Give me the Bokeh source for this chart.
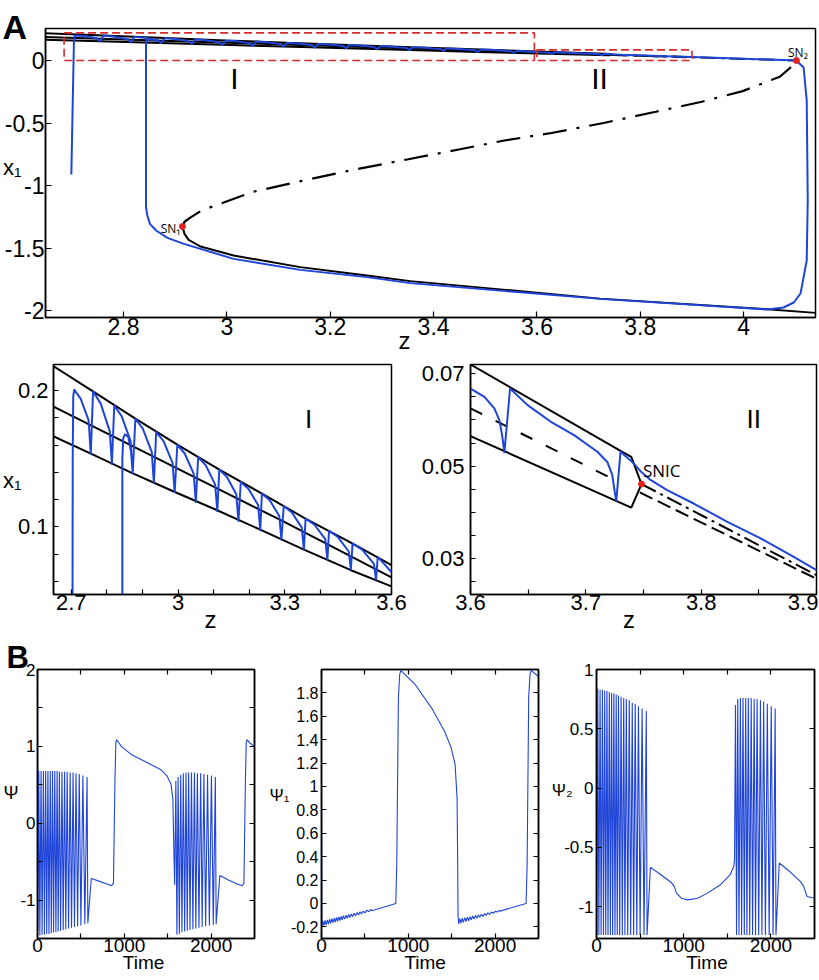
from bokeh.plotting import figure
from bokeh.models import Range1d, FixedTicker, LinearAxis, Label
from bokeh.layouts import column, row
from bokeh.embed import file_html
from bokeh.resources import INLINE

FONT = "Liberation Sans"
SANS2 = "Open Sans"
BLUE = "#1f44d8"
RED = "#e3221c"
BOXRED = "#d62b2b"

# ---------------- Panel A / I / II data (z, x1) ----------------
top_z = [2.645, 2.761, 2.880, 2.998, 3.116, 3.236, 3.358, 3.491, 3.600, 3.7316, 3.7394, 3.7483]
top_x = [0.2186, 0.1993, 0.1793, 0.1603, 0.1420, 0.1244, 0.1061, 0.0878, 0.0720, 0.0531, 0.0520, 0.0461]
bot_z = [2.645, 2.755, 2.873, 2.991, 3.110, 3.231, 3.354, 3.486, 3.600, 3.7394, 3.7483]
bot_x = [0.1670, 0.1537, 0.1393, 0.1256, 0.1122, 0.0980, 0.0834, 0.0683, 0.0565, 0.0410, 0.0461]
mid_z = [2.645, 3.000, 3.300, 3.600]
mid_x = [0.1888, 0.1425, 0.1035, 0.0630]
mid2_z = [3.600, 3.7301]
mid2_x = [0.0625, 0.0464]
up_z = [3.7483, 3.900, 4.102]
up_x = [0.0461, 0.0264, 0.0000]
lo_z = [3.7468, 3.900]
lo_x = [0.0443, 0.0256]
mb_z = [2.914, 2.918, 2.930, 2.951, 3.051, 3.148, 3.250, 3.351, 3.451, 3.537, 3.628, 3.729,
        3.830, 3.919, 3.998, 4.070, 4.095, 4.102]
mb_x = [-1.328, -1.290, -1.255, -1.200, -1.050, -0.960, -0.870, -0.790, -0.710, -0.640, -0.580,
        -0.500, -0.410, -0.330, -0.245, -0.130, -0.040, 0.000]
low_z = [2.914, 2.918, 2.926, 2.949, 3.013, 3.142, 3.271, 3.355, 3.540, 3.722, 4.046, 4.139]
low_x = [-1.328, -1.387, -1.435, -1.488, -1.560, -1.653, -1.720, -1.765, -1.835, -1.905, -1.990, -2.019]

traj_z = [2.699, 2.7040, 2.7055, 2.7085,
          2.7266, 2.7487, 2.7547, 2.7613, 2.7824, 2.8082, 2.8142, 2.8208, 2.8414, 2.8666, 2.8726, 2.8802,
          2.9009, 2.9261, 2.9321, 2.9387, 2.9594, 2.9846, 2.9906, 2.9981, 3.0188, 3.0440, 3.0500, 3.0566,
          3.0781, 3.1044, 3.1104, 3.1160, 3.1375, 3.1638, 3.1698, 3.1764, 3.1983, 3.2251, 3.2311, 3.2358,
          3.2578, 3.2846, 3.2906, 3.2972, 3.3200, 3.3478, 3.3538, 3.3585, 3.3834, 3.4138, 3.4198, 3.4245,
          3.4494, 3.4798, 3.4858, 3.4906, 3.5176, 3.5506, 3.5566, 3.5613,
          3.5800, 3.6000, 3.6121, 3.6207, 3.6251, 3.6274, 3.6294, 3.6343, 3.6495, 3.6697, 3.6898, 3.7100,
          3.7186, 3.7229, 3.7250, 3.7264, 3.7301, 3.7402, 3.7474, 3.7561, 3.7705, 3.7935, 3.8223, 3.8511,
          3.8799, 3.9000, 4.0000, 4.1020,
          4.1160, 4.1220, 4.1240, 4.1220, 4.1100, 4.0970, 4.0770, 4.0460,
          3.7220, 3.5400, 3.3550, 3.2710, 3.1420, 3.0130, 2.9170, 2.8850, 2.8630, 2.8510, 2.8455, 2.8435,
          2.8435, 2.8460, 2.8509, 2.8604, 2.8680, 2.8726]
traj_x = [-0.912, 0.150, 0.196, 0.2005,
          0.1938, 0.178, 0.1537, 0.1993, 0.1905, 0.170, 0.1463, 0.1890, 0.1812, 0.163, 0.1395, 0.1793,
          0.1720, 0.155, 0.1324, 0.1695, 0.1628, 0.147, 0.1256, 0.1602, 0.1538, 0.139, 0.1183, 0.1512,
          0.1451, 0.131, 0.1115, 0.1420, 0.1366, 0.124, 0.1044, 0.1329, 0.1278, 0.116, 0.0976, 0.1244,
          0.1195, 0.108, 0.0907, 0.1154, 0.1106, 0.0995, 0.0834, 0.1061, 0.1016, 0.091, 0.0763, 0.0971,
          0.0926, 0.082, 0.0690, 0.0878, 0.0834, 0.073, 0.0615, 0.0780,
          0.0728, 0.0668, 0.0650, 0.0625, 0.0599, 0.0567, 0.0530, 0.0668, 0.0632, 0.0596, 0.0567, 0.0531,
          0.0509, 0.0481, 0.0445, 0.0425, 0.0531, 0.0509, 0.0489, 0.0470, 0.0448, 0.0419, 0.0380, 0.0344,
          0.0304, 0.0275, 0.0145, 0.0000,
          -0.056, -0.32, -1.12, -1.60, -1.864, -1.936, -1.976, -1.992,
          -1.907, -1.845, -1.781, -1.733, -1.675, -1.587, -1.467, -1.419, -1.360, -1.307, -1.230, -1.170,
          0.150, 0.1650, 0.1678, 0.1659, 0.1550, 0.1395]

sn_z = [2.914, 4.102]
sn_x = [-1.328, 0.000]
snic_z = [3.7483]
snic_x = [0.0461]
box_left = [2.685, 3.600]
box_right = [3.595, 3.900]
box_bottom = [0.000, 0.000]
box_top = [0.221, 0.085]

a_xt = [2.8, 3.0, 3.2, 3.4, 3.6, 3.8, 4.0]
a_xl = ["2.8", "3", "3.2", "3.4", "3.6", "3.8", "4"]
a_yt = [-2.0, -1.5, -1.0, -0.5, 0.0]
a_yl = ["-2", "-1.5", "-1", "-0.5", "0"]
i_xt = [2.7, 3.0, 3.3, 3.6]
i_xl = ["2.7", "3", "3.3", "3.6"]
i_xm = [2.8, 2.9, 3.1, 3.2, 3.4, 3.5]
i_yt = [0.1, 0.2]
i_yl = ["0.1", "0.2"]
i_ym = [0.06, 0.08, 0.12, 0.14, 0.16, 0.18]
ii_xtick = [3.6, 3.65, 3.7, 3.75, 3.8, 3.85, 3.9]
ii_xlab_pos = [3.6, 3.7, 3.8, 3.8884]
ii_xl = ["3.6", "3.7", "3.8", "3.9"]
ii_yt = [0.03, 0.05, 0.07]
ii_yl = ["0.03", "0.05", "0.07"]
ii_ym = [0.025, 0.035, 0.04, 0.045, 0.055, 0.06, 0.065]

# ---------------- Panel B data (time series) ----------------
b1_peak_t = [15, 41, 68, 94, 120, 147, 173, 199, 226, 252, 282, 312, 342, 376, 410, 444, 481, 523, 571]
b1_trough_t = [27, 53, 80, 106, 132, 159, 185, 212, 238, 266, 296, 326, 358, 392, 426, 462, 500, 545, 580]
b2_peak_t = [1594, 1620, 1650, 1680, 1711, 1741, 1774, 1808, 1842, 1880, 1917, 1959, 2004, 2049]
b2_trough_t = [1606, 1634, 1664, 1695, 1725, 1757, 1790, 1824, 1860, 1897, 1937, 1980, 2025, 2058]

psi_pre_t = [0, 5]
psi_pre = [1.98, -1.40]
psi_pk1 = [0.68, 0.68, 0.68, 0.68, 0.68, 0.68, 0.68, 0.68, 0.68, 0.67, 0.67, 0.67, 0.67, 0.66, 0.66, 0.65, 0.64, 0.62, 0.60]
psi_tr1 = [-1.46, -1.45, -1.45, -1.44, -1.44, -1.43, -1.42, -1.42, -1.41, -1.40, -1.39, -1.38, -1.37, -1.36, -1.35, -1.34, -1.33, -1.31, -1.30]
psi_mid_t = [620, 700, 800, 853, 875, 893, 903, 912, 935, 966, 1079, 1267, 1417, 1492, 1538, 1560, 1570, 1580]
psi_mid = [-0.72, -0.75, -0.79, -0.813, -0.78, 0.60, 1.05, 1.088, 1.05, 1.00, 0.895, 0.787, 0.70, 0.615, 0.51, 0.31, -0.30, -0.80]
psi_pk2 = [0.55, 0.60, 0.63, 0.65, 0.66, 0.66, 0.66, 0.66, 0.65, 0.65, 0.64, 0.63, 0.62, 0.60]
psi_tr2 = [-1.45, -1.44, -1.42, -1.41, -1.40, -1.39, -1.38, -1.37, -1.36, -1.35, -1.34, -1.33, -1.32, -1.31]
psi_post_t = [2101, 2200, 2300, 2357, 2378, 2396, 2405, 2414, 2450, 2500]
psi_post = [-0.68, -0.74, -0.79, -0.813, -0.78, 0.60, 1.05, 1.088, 1.04, 1.00]

psi1_pre_t = [0, 4]
psi1_pre = [1.00, -0.19]
psi1_pk1 = [-0.150, -0.145, -0.140, -0.135, -0.130, -0.125, -0.120, -0.115, -0.110, -0.105, -0.100, -0.095, -0.090, -0.085, -0.078, -0.072, -0.065, -0.057, -0.050]
psi1_tr1 = [-0.190, -0.183, -0.177, -0.171, -0.165, -0.159, -0.153, -0.147, -0.141, -0.134, -0.128, -0.121, -0.113, -0.106, -0.098, -0.090, -0.081, -0.071, -0.062]
psi1_mid_t = [856, 867, 886, 901, 916, 1081, 1269, 1419, 1494, 1539, 1562, 1569, 1573, 1580]
psi1_mid = [0.00, 0.33, 1.76, 1.96, 1.99, 1.87, 1.67, 1.47, 1.33, 1.19, 0.90, 0.33, -0.10, -0.175]
psi1_pk2 = [-0.131, -0.127, -0.122, -0.118, -0.113, -0.108, -0.102, -0.098, -0.093, -0.087, -0.081, -0.074, -0.067, -0.059]
psi1_tr2 = [-0.168, -0.162, -0.155, -0.148, -0.141, -0.134, -0.127, -0.119, -0.111, -0.103, -0.094, -0.084, -0.074, -0.066]
psi1_post_t = [2357, 2369, 2387, 2402, 2417, 2500]
psi1_post = [0.00, 0.33, 1.76, 1.96, 1.99, 1.94]

psi2_pre_t = [0, 5]
psi2_pre = [1.00, -1.24]
psi2_pk1 = [0.84, 0.83, 0.83, 0.82, 0.82, 0.81, 0.80, 0.80, 0.79, 0.78, 0.77, 0.76, 0.75, 0.74, 0.72, 0.71, 0.69, 0.67, 0.65]
psi2_tr1 = [-1.24, -1.24, -1.24, -1.24, -1.24, -1.24, -1.24, -1.24, -1.24, -1.24, -1.24, -1.24, -1.24, -1.24, -1.24, -1.24, -1.24, -1.24, -1.24]
psi2_mid_t = [618, 711, 861, 891, 917, 973, 1048, 1160, 1272, 1422, 1534, 1575, 1583]
psi2_mid = [-0.67, -0.717, -0.80, -0.83, -0.887, -0.93, -0.944, -0.93, -0.887, -0.816, -0.73, -0.66, -0.60]
psi2_pk2 = [0.70, 0.75, 0.76, 0.76, 0.76, 0.76, 0.76, 0.75, 0.75, 0.74, 0.73, 0.71, 0.69, 0.67]
psi2_tr2 = [-1.24, -1.24, -1.24, -1.24, -1.24, -1.24, -1.24, -1.24, -1.24, -1.24, -1.24, -1.24, -1.24, -1.24]
psi2_post_t = [2096, 2208, 2339, 2376, 2414, 2500]
psi2_post = [-0.633, -0.70, -0.79, -0.83, -0.915, -0.93]

b_xt = [0, 1000, 2000]
b_xl = ["0", "1000", "2000"]
b_xm = [500, 1500]
b1_yt = [-1.0, 0.0, 1.0, 2.0]
b1_yl = ["-1", "0", "1", "2"]
b1_ym = [-0.5, 0.5, 1.5]
b2_yt = [-0.2, 0.0, 0.2, 0.4, 0.6, 0.8, 1.0, 1.2, 1.4, 1.6, 1.8]
b2_yl = ["-0.2", "0", "0.2", "0.4", "0.6", "0.8", "1", "1.2", "1.4", "1.6", "1.8"]
b3_yt = [-1.0, -0.5, 0.0, 0.5, 1.0]
b3_yl = ["-1", "-0.5", "0", "0.5", "1"]


def build(pre_t, pre_v, pk1, tr1, mid_t, mid_v, pk2, tr2, post_t, post_v):
    t = list(pre_t)
    v = list(pre_v)
    for a, b, c, d in zip(b1_peak_t, pk1, b1_trough_t, tr1):
        t += [a, c]
        v += [b, d]
    t += list(mid_t)
    v += list(mid_v)
    for a, b, c, d in zip(b2_peak_t, pk2, b2_trough_t, tr2):
        t += [a, c]
        v += [b, d]
    t += list(post_t)
    v += list(post_v)
    return t, v


def make_fig(w, h, xr, yr, ml, mr, mt, mb):
    p = figure(width=w, height=h, x_range=Range1d(*xr), y_range=Range1d(*yr),
               output_backend="svg", toolbar_location=None,
               min_border_left=ml, min_border_right=mr, min_border_top=mt, min_border_bottom=mb)
    p.outline_line_color = "black"
    p.outline_line_width = 1.5
    p.xgrid.visible = False
    p.ygrid.visible = False
    p.background_fill_color = "white"
    p.border_fill_color = "white"
    return p


def tick_style(ax, tick=5):
    ax.major_tick_in = tick
    ax.major_tick_out = 0
    ax.minor_tick_in = tick
    ax.minor_tick_out = 0
    ax.axis_line_color = "black"
    ax.axis_line_width = 1.5
    ax.major_tick_line_color = "black"
    ax.minor_tick_line_color = "black"
    ax.major_tick_line_width = 1.2
    ax.minor_tick_line_width = 1.2


def style_axis(ax, ticks, labels, minor, fs, standoff, tick=5):
    ax.ticker = FixedTicker(ticks=ticks, minor_ticks=minor)
    ax.major_label_overrides = dict(zip(ticks, labels))
    ax.major_label_text_font = FONT
    ax.major_label_text_font_size = fs
    ax.major_label_text_color = "black"
    ax.major_label_standoff = standoff
    tick_style(ax, tick)


def ticks_only(ax, positions, tick=5):
    # an axis that draws only tick marks (all positions given as minor ticks, so no labels)
    ax.ticker = FixedTicker(ticks=[], minor_ticks=positions)
    ax.major_label_standoff = 0
    tick_style(ax, tick)


def mirror_axis(p, loc, pos):
    ax = LinearAxis()
    ticks_only(ax, pos)
    p.add_layout(ax, loc)


def label_axis(p, loc, pos, texts, fs, standoff):
    # an axis with no line and no tick marks, used only to set texts beside the frame
    ax = LinearAxis(ticker=FixedTicker(ticks=pos, minor_ticks=[]))
    ax.major_label_overrides = dict(zip(pos, texts))
    ax.major_label_text_font = FONT
    ax.major_label_text_font_size = fs
    ax.major_label_text_color = "black"
    ax.major_label_standoff = standoff
    ax.major_tick_in = 0
    ax.major_tick_out = 0
    ax.axis_line_color = None
    ax.major_tick_line_color = None
    ax.minor_tick_line_color = None
    p.add_layout(ax, loc)


def letter(p, text, size, offset, standoff):
    p.title.text = text
    p.title.align = "left"
    p.title.offset = offset
    p.title.standoff = standoff
    p.title.text_font = FONT
    p.title.text_font_size = size
    p.title.text_font_style = "bold"
    p.title.text_color = "black"


def lab(p, x, y, text, size, align="center", baseline="middle", font=FONT):
    p.add_layout(Label(x=x, y=y, text=text, text_font=font, text_font_size=size,
                       text_align=align, text_baseline=baseline, text_color="black"))


def draw_branches(p, width=2.0):
    p.line(top_z, top_x, line_color="black", line_width=width)
    p.line(bot_z, bot_x, line_color="black", line_width=width)
    p.line(mid_z, mid_x, line_color="black", line_width=width)
    p.line(mid2_z, mid2_x, line_color="black", line_width=width, line_dash="13 15")
    p.line(up_z, up_x, line_color="black", line_width=width, line_dash="16 5 3 5")
    p.line(lo_z, lo_x, line_color="black", line_width=width, line_dash="14 6")


# ---------------- Panel A ----------------
pA = make_fig(818, 358, (2.649, 4.139), (-2.056, 0.256), 45, 3, 28, 41)
style_axis(pA.xaxis[0], a_xt, a_xl, [], "23px", 0, 6)
style_axis(pA.yaxis[0], a_yt, a_yl, [], "23px", 1, 6)
label_axis(pA, "below", [3.3437], ["z"], "24px", -11)
label_axis(pA, "left", [-0.856], ["x\u2081"], "22px", -20)
letter(pA, "A", "34px", -43, -34)
pA.line(mb_z, mb_x, line_color="black", line_width=2.2, line_dash="24 10 3 10")
pA.line(low_z, low_x, line_color="black", line_width=2.0)
draw_branches(pA)
pA.line(traj_z, traj_x, line_color=BLUE, line_width=2.0, line_join="round")
pA.quad(left=box_left, right=box_right, bottom=box_bottom, top=box_top, fill_alpha=0,
        line_color=BOXRED, line_width=1.6, line_dash="8 4")
pA.scatter(sn_z, sn_x, size=6, color=RED)
lab(pA, 3.0147, -0.144, "I", "30px")
lab(pA, 3.7210, -0.144, "II", "30px")
lab(pA, 2.9102, -1.344, "SN\u2081", "12px", align="right", font=SANS2)
lab(pA, 4.1050, 0.068, "SN\u2082", "12px", font=SANS2)

# ---------------- Panel I ----------------
pI = make_fig(418, 280, (2.65, 3.6), (0.0505, 0.219), 53, 27, 6, 44)
style_axis(pI.xaxis[0], i_xt, i_xl, i_xm, "22px", 0)
style_axis(pI.yaxis[0], i_yt, i_yl, i_ym, "22px", 5)
label_axis(pI, "below", [3.0913], ["z"], "24px", -7)
label_axis(pI, "left", [0.134], ["x\u2081"], "22px", -7)
draw_branches(pI)
pI.line(traj_z, traj_x, line_color=BLUE, line_width=2.0, line_join="round")
lab(pI, 3.3667, 0.1794, "I", "26px")

# ---------------- Panel II ----------------
pII = make_fig(400, 280, (3.6, 3.9), (0.0222, 0.0720), 51, 2, 6, 44)
ticks_only(pII.xaxis[0], ii_xtick)
style_axis(pII.yaxis[0], ii_yt, ii_yl, ii_ym, "22px", 6)
label_axis(pII, "below", ii_xlab_pos, ii_xl, "22px", 0)
label_axis(pII, "below", [3.7375], ["z"], "24px", -7)
draw_branches(pII)
pII.line(traj_z, traj_x, line_color=BLUE, line_width=2.0, line_join="round")
pII.scatter(snic_z, snic_x, size=6, color=RED)
lab(pII, 3.8455, 0.0603, "II", "26px")
lab(pII, 3.7495, 0.04905, "SNIC", "17px", align="left", font=SANS2)

# ---------------- Panel B ----------------
t0, v0 = build(psi_pre_t, psi_pre, psi_pk1, psi_tr1, psi_mid_t, psi_mid,
               psi_pk2, psi_tr2, psi_post_t, psi_post)
t1, v1 = build(psi1_pre_t, psi1_pre, psi1_pk1, psi1_tr1, psi1_mid_t, psi1_mid,
               psi1_pk2, psi1_tr2, psi1_post_t, psi1_post)
t2, v2 = build(psi2_pre_t, psi2_pre, psi2_pk1, psi2_tr1, psi2_mid_t, psi2_mid,
               psi2_pk2, psi2_tr2, psi2_post_t, psi2_post)

pB1 = make_fig(266, 340, (0, 2500), (-1.5, 2.0), 31, 12, 31, 40)
style_axis(pB1.xaxis[0], b_xt, b_xl, b_xm, "19px", 0)
style_axis(pB1.yaxis[0], b1_yt, b1_yl, b1_ym, "17px", 2)
label_axis(pB1, "below", [1222], ["Time"], "19px", -3)
label_axis(pB1, "left", [0.387], ["\u03a8"], "18px", -1)
mirror_axis(pB1, "above", b_xt + b_xm)
mirror_axis(pB1, "right", b1_yt + b1_ym)
letter(pB1, "B", "31px", -31, -11)
pB1.line(t0, v0, line_color=BLUE, line_width=1.1)

pB2 = make_fig(282, 340, (0, 2500), (-0.3, 2.0), 50, 10, 31, 40)
style_axis(pB2.xaxis[0], b_xt, b_xl, b_xm, "19px", 0)
style_axis(pB2.yaxis[0], b2_yt, b2_yl, [], "16px", 3)
label_axis(pB2, "below", [1194], ["Time"], "19px", -3)
label_axis(pB2, "left", [0.923], ["\u03a8\u2081"], "17px", -2)
mirror_axis(pB2, "above", b_xt + b_xm)
mirror_axis(pB2, "right", b2_yt)
pB2.line(t1, v1, line_color=BLUE, line_width=1.1)

pB3 = make_fig(270, 340, (0, 2500), (-1.27, 1.0), 43, 4, 31, 40)
style_axis(pB3.xaxis[0], b_xt, b_xl, b_xm, "19px", 0)
style_axis(pB3.yaxis[0], b3_yt, b3_yl, [], "17px", 3)
label_axis(pB3, "below", [1267], ["Time"], "19px", -3)
label_axis(pB3, "left", [-0.021], ["\u03a8\u2082"], "17px", -11)
mirror_axis(pB3, "above", b_xt + b_xm)
mirror_axis(pB3, "right", b3_yt)
pB3.line(t2, v2, line_color=BLUE, line_width=1.1)

layout = column(pA, row(pI, pII), row(pB1, pB2, pB3))
open("out.html", "w").write(file_html(layout, INLINE, title="Bifurcation diagram"))
